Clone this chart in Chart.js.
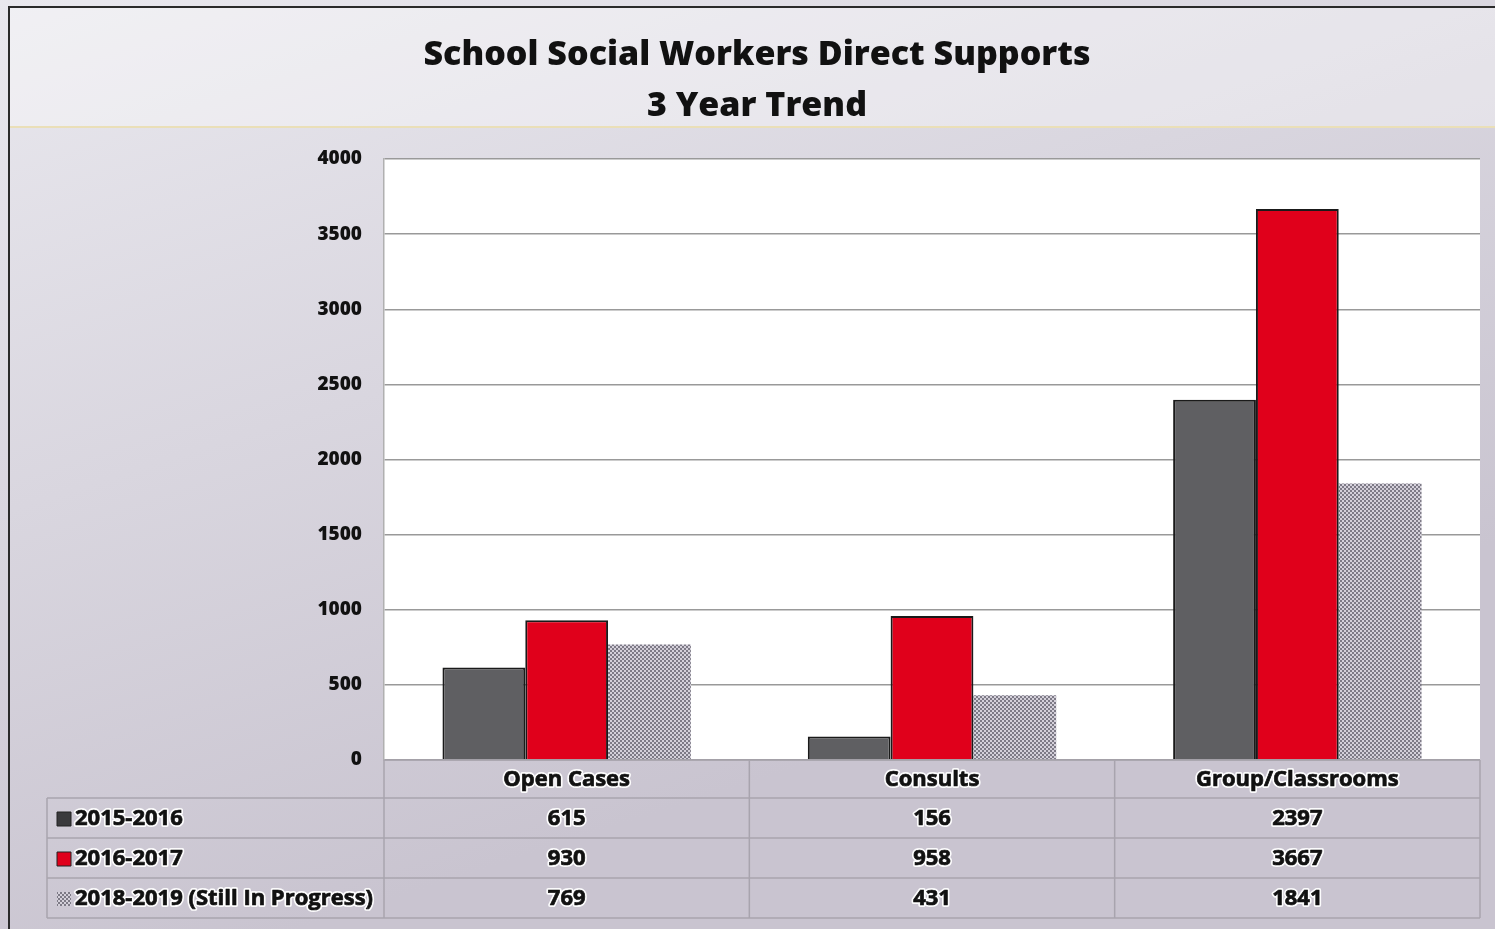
<!DOCTYPE html>
<html>
<head>
<meta charset="utf-8">
<script src="https://cdn.jsdelivr.net/npm/chart.js@4/dist/chart.umd.min.js"></script>
<style>
  body { margin: 0; background: #e4e2e8; }
  #wrap { width: 1495px; height: 929px; }
</style>
</head>
<body>
<div id="wrap"><canvas id="trend" width="1495" height="929"></canvas></div>
<script>
// chart data
var categories = ['Open Cases', 'Consults', 'Group/Classrooms'];
var seriesNames = ['2015-2016', '2016-2017', '2018-2019 (Still In Progress)'];
var values2015 = [615, 156, 2397];
var values2016 = [930, 958, 3667];
var values2018 = [769, 431, 1841];
var yTicks = [0, 500, 1000, 1500, 2000, 2500, 3000, 3500, 4000];

var fontName = '"Open Sans", "Noto Sans", sans-serif';

// small dotted pattern for the last series
function dotPattern() {
    var c = document.createElement('canvas');
    c.width = 4; c.height = 4;
    var g = c.getContext('2d');
    g.fillStyle = '#d4d0da';
    g.fillRect(0, 0, 4, 4);
    g.fillStyle = '#7d7a86';
    g.fillRect(0, 0, 2, 2);
    g.fillRect(2, 2, 2, 2);
    return g.createPattern(c, 'repeat');
}
var hatch = dotPattern();

function haloText(ctx, text, x, y) {
    ctx.lineJoin = 'round';
    ctx.strokeStyle = 'rgba(255,255,255,0.95)';
    ctx.lineWidth = 4;
    ctx.strokeText(text, x, y);
    ctx.fillStyle = '#111';
    ctx.fillText(text, x, y);
    ctx.strokeStyle = '#111';
    ctx.lineWidth = 0.7;
    ctx.strokeText(text, x, y);
}

// background, frame and the data table under the plot
var frame = {
    id: 'frame',
    beforeDraw: function(chart) {
        var ctx = chart.ctx;
        ctx.save();
        var grad = ctx.createLinearGradient(0, 0, 300, 929);
        grad.addColorStop(0, '#e9e8ee');
        grad.addColorStop(1, '#c9c4d0');
        ctx.fillStyle = grad;
        ctx.fillRect(0, 0, chart.width, chart.height);
        ctx.fillStyle = 'rgba(255,255,255,0.35)';
        ctx.fillRect(9, 8, chart.width - 9, 119);
        ctx.strokeStyle = '#eadfb8';
        ctx.lineWidth = 2;
        ctx.beginPath(); ctx.moveTo(9, 127); ctx.lineTo(chart.width, 127); ctx.stroke();
        ctx.strokeStyle = '#2a2a2a';
        ctx.lineWidth = 2;
        ctx.beginPath();
        ctx.moveTo(9, 929); ctx.lineTo(9, 7); ctx.lineTo(chart.width, 7);
        ctx.stroke();
        var a = chart.chartArea;
        ctx.fillStyle = '#ffffff';
        ctx.fillRect(a.left, a.top, a.right - a.left, a.bottom - a.top);
        ctx.restore();
    },
    afterDraw: function(chart) {
        var ctx = chart.ctx;
        var a = chart.chartArea;
        var x = chart.scales.x;
        var colW = (a.right - a.left) / categories.length;
        var rowTop = [a.bottom, 798, 838, 878, 918];
        var labelLeft = 47;
        ctx.save();
        ctx.strokeStyle = '#a8a4ae';
        ctx.lineWidth = 1.5;
        // horizontal lines
        for (var r = 0; r < rowTop.length; r++) {
            ctx.beginPath();
            ctx.moveTo(r === 0 ? a.left : labelLeft, rowTop[r]);
            ctx.lineTo(a.right, rowTop[r]);
            ctx.stroke();
        }
        // vertical lines
        ctx.beginPath(); ctx.moveTo(labelLeft, rowTop[1]); ctx.lineTo(labelLeft, rowTop[4]); ctx.stroke();
        for (var c = 0; c <= categories.length; c++) {
            var vx = a.left + c * colW;
            ctx.beginPath(); ctx.moveTo(vx, rowTop[0]); ctx.lineTo(vx, rowTop[4]); ctx.stroke();
        }
        ctx.font = 'bold 22px ' + fontName;
        ctx.textBaseline = 'middle';
        ctx.textAlign = 'center';
        categories.forEach(function(cat, i) {
            haloText(ctx, cat, x.getPixelForValue(i), (rowTop[0] + rowTop[1]) / 2 + 1);
        });
        var rows = [values2015, values2016, values2018];
        var swatches = ['#3a3a3c', '#e0001b', hatch];
        rows.forEach(function(vals, r) {
            var cy = (rowTop[r + 1] + rowTop[r + 2]) / 2 + 1;
            ctx.fillStyle = swatches[r];
            ctx.fillRect(57, cy - 7, 14, 14);
            ctx.strokeStyle = '#222';
            ctx.lineWidth = 1;
            if (r < 2) ctx.strokeRect(57, cy - 7, 14, 14);
            ctx.textAlign = 'left';
            haloText(ctx, seriesNames[r], 75, cy);
            ctx.textAlign = 'center';
            vals.forEach(function(v, i) {
                haloText(ctx, String(v), x.getPixelForValue(i), cy);
            });
        });
        ctx.restore();
    }
};

new Chart(document.getElementById('trend'), {
    type: 'bar',
    data: {
        labels: categories,
        datasets: [
            {
                label: seriesNames[0],
                data: values2015,
                backgroundColor: '#5f5f62',
                borderColor: '#1a1a1a',
                borderWidth: 2,
                borderSkipped: 'bottom'
            },
            {
                label: seriesNames[1],
                data: values2016,
                backgroundColor: '#e0001b',
                borderColor: '#1a1a1a',
                borderWidth: 2,
                borderSkipped: 'bottom'
            },
            {
                label: seriesNames[2],
                data: values2018,
                backgroundColor: hatch,
                borderWidth: 0
            }
        ]
    },
    options: {
        responsive: false,
        animation: false,
        layout: { padding: { top: 10, right: 15, bottom: 169, left: 34 } },
        datasets: { bar: { categoryPercentage: 0.68, barPercentage: 1 } },
        plugins: {
            legend: { display: false },
            tooltip: { enabled: false },
            title: {
                display: true,
                text: ['School Social Workers Direct Supports', '3 Year Trend'],
                color: '#111',
                font: { family: fontName, size: 34, weight: 800, lineHeight: 1.5 },
                padding: { top: 20, bottom: 27 }
            }
        },
        scales: {
            x: {
                display: false
            },
            y: {
                min: 0,
                max: 4000,
                afterBuildTicks: function(scale) {
                    scale.ticks = yTicks.map(function(v) { return { value: v }; });
                },
                afterFit: function(scale) { scale.width = 350; },
                border: { display: true, color: '#b0b0b0', width: 1.5 },
                grid: { color: '#999999', lineWidth: 1.5, drawTicks: false },
                ticks: {
                    padding: 22,
                    color: '#111',
                    font: { family: fontName, size: 19, weight: 800 },
                    callback: function(v) { return String(v); }
                }
            }
        }
    },
    plugins: [frame]
});
</script>
</body>
</html>
